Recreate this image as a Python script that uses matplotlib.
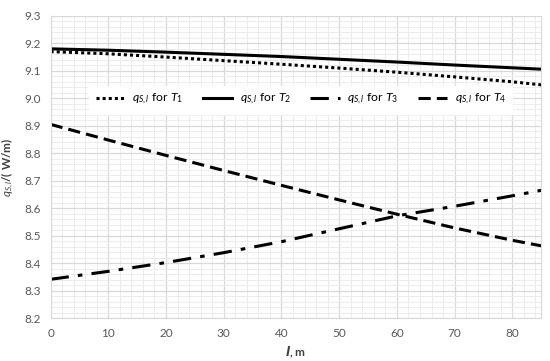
import matplotlib
matplotlib.use("Agg")
import matplotlib.pyplot as plt
from matplotlib.ticker import MultipleLocator

# values
l = [0, 10, 20, 30, 40, 50, 60, 70, 80, 85]
q_T1 = [9.170, 9.162, 9.150, 9.137, 9.124, 9.110, 9.095, 9.078, 9.060, 9.049]
q_T2 = [9.180, 9.175, 9.168, 9.160, 9.152, 9.142, 9.132, 9.121, 9.111, 9.106]
q_T3 = [8.341, 8.370, 8.402, 8.438, 8.478, 8.525, 8.572, 8.607, 8.645, 8.665]
q_T4 = [8.905, 8.848, 8.792, 8.737, 8.683, 8.630, 8.578, 8.528, 8.483, 8.463]
labels = [r"$q_{S,l}$ for $T_1$", r"$q_{S,l}$ for $T_2$",
          r"$q_{S,l}$ for $T_3$", r"$q_{S,l}$ for $T_4$"]

plt.rcParams['font.family'] = ['Lato', 'DejaVu Sans']
plt.rcParams['mathtext.fontset'] = 'custom'
plt.rcParams['mathtext.rm'] = 'Lato'
plt.rcParams['mathtext.it'] = 'Lato:italic'
plt.rcParams['mathtext.bf'] = 'Lato:bold'

fig = plt.figure(figsize=(5.5, 3.61), dpi=100)
ax = fig.add_axes([0.092, 0.119, 0.892, 0.837])

ax.plot(l, q_T1, color='black', lw=2.2, linestyle=(0, (1, 1)), label=labels[0])
ax.plot(l, q_T2, color='black', lw=2.2, linestyle='-', label=labels[1])
ax.plot(l, q_T3, color='black', lw=2.2, linestyle=(0, (6, 3, 1.5, 3)), label=labels[2])
ax.plot(l, q_T4, color='black', lw=2.2, linestyle=(0, (4, 2)), label=labels[3])

ax.set_xlim(0, 85)
ax.set_ylim(8.2, 9.3)
ax.xaxis.set_major_locator(MultipleLocator(10))
ax.xaxis.set_minor_locator(MultipleLocator(2))
ax.yaxis.set_major_locator(MultipleLocator(0.1))
ax.yaxis.set_minor_locator(MultipleLocator(0.02))
ax.yaxis.set_major_formatter(plt.FormatStrFormatter('%.1f'))
ax.grid(which='major', color='#d9d9d9', lw=0.9)
ax.grid(which='minor', color='#ececec', lw=0.7)
ax.set_axisbelow(True)
ax.tick_params(which='both', length=0, labelsize=8.5, labelcolor='#595959', pad=7)
for s in ax.spines.values():
    s.set_color('#d9d9d9')

ax.set_xlabel(r"$\mathbfit{l}$, m", fontsize=8.5, fontweight='bold', color='#404040', labelpad=4)
ax.set_ylabel(r"$q_{S,l}$/( W/m)", fontsize=8.5, fontweight='bold', color='#404040', labelpad=6)

leg = ax.legend(loc='center', bbox_to_anchor=(0.51, 0.722), ncol=4, fontsize=8.8,
                frameon=True, fancybox=False, handlelength=2.4, columnspacing=1.6,
                borderpad=0.5, handletextpad=0.6)
leg.get_frame().set_edgecolor('white')
leg.get_frame().set_facecolor('white')
leg.get_frame().set_alpha(1)

fig.savefig("out.png", dpi=100)
